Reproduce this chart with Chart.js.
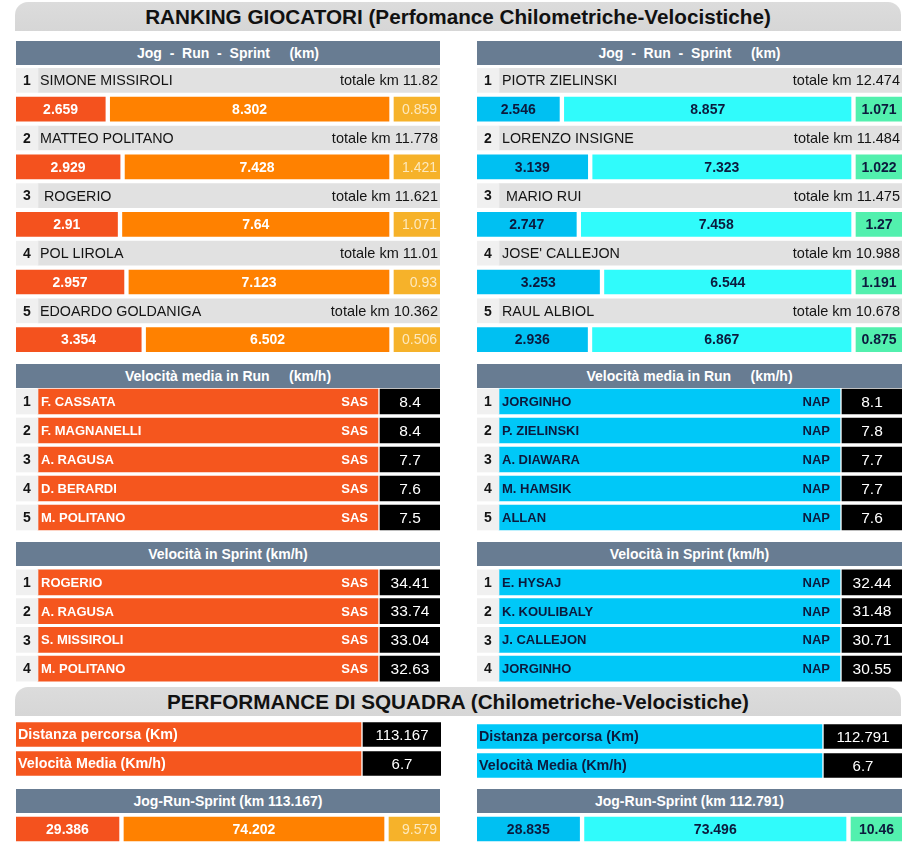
<!DOCTYPE html>
<html>
<head>
<meta charset="utf-8">
<script src="https://cdn.jsdelivr.net/npm/chart.js@4.4.1/dist/chart.umd.min.js"></script>
<style>
  html,body{margin:0;padding:0;background:#fff;}
  body{width:910px;height:854px;position:relative;overflow:hidden;font-family:"Liberation Sans",Arial,sans-serif;}
  .banner{position:absolute;left:15px;width:886px;height:29px;background:linear-gradient(#dcdcdc,#d6d6d6);border-radius:13px 13px 0 0;
    font:bold 20.7px "Liberation Sans",Arial,sans-serif;color:#111;text-align:center;line-height:30px;white-space:pre;}
  .hdr{position:absolute;height:24px;background:#687c92;color:#fff;font:bold 14px "Liberation Sans",Arial,sans-serif;
    text-align:center;line-height:25px;white-space:pre;}
  canvas{position:absolute;display:block;}
</style>
</head>
<body>
<div class="banner" style="top:2px">RANKING GIOCATORI (Perfomance Chilometriche-Velocistiche)</div>

<div class="hdr" style="left:16px;top:41px;width:424px">Jog  -  Run  -  Sprint     (km)</div>
<div class="hdr" style="left:477px;top:41px;width:425px">Jog  -  Run  -  Sprint     (km)</div>
<canvas id="jrsL" width="424" height="288" style="left:16px;top:66px"></canvas>
<canvas id="jrsR" width="425" height="288" style="left:477px;top:66px"></canvas>

<div class="hdr" style="left:16px;top:364px;width:424px">Velocità media in Run     (km/h)</div>
<div class="hdr" style="left:477px;top:364px;width:425px">Velocità media in Run     (km/h)</div>
<canvas id="runL" width="424" height="145" style="left:16px;top:387px"></canvas>
<canvas id="runR" width="425" height="145" style="left:477px;top:387px"></canvas>

<div class="hdr" style="left:16px;top:542px;width:424px">Velocità in Sprint (km/h)</div>
<div class="hdr" style="left:477px;top:542px;width:425px">Velocità in Sprint (km/h)</div>
<canvas id="sprL" width="424" height="115" style="left:16px;top:568px"></canvas>
<canvas id="sprR" width="425" height="115" style="left:477px;top:568px"></canvas>

<div class="banner" style="top:687px">PERFORMANCE DI SQUADRA (Chilometriche-Velocistiche)</div>
<canvas id="teamL" width="425" height="58" style="left:16px;top:720px"></canvas>
<canvas id="teamR" width="425" height="58" style="left:477px;top:722px"></canvas>

<div class="hdr" id="teamHdrL" style="left:16px;top:789px;width:424px"></div>
<div class="hdr" id="teamHdrR" style="left:477px;top:789px;width:425px"></div>
<canvas id="tjrsL" width="424" height="28" style="left:16px;top:815px"></canvas>
<canvas id="tjrsR" width="425" height="28" style="left:477px;top:815px"></canvas>

<script>
// ---------------- DATA ----------------
const sasPlayers = ['SIMONE MISSIROLI', 'MATTEO POLITANO', ' ROGERIO', 'POL LIROLA', 'EDOARDO GOLDANIGA'];
const sasTotal   = [11.82, 11.778, 11.621, 11.01, 10.362];
const sasJog     = [2.659, 2.929, 2.91, 2.957, 3.354];
const sasRun     = [8.302, 7.428, 7.64, 7.123, 6.502];
const sasSprint  = [0.859, 1.421, 1.071, 0.93, 0.506];

const napPlayers = ['PIOTR ZIELINSKI', 'LORENZO INSIGNE', ' MARIO RUI', "JOSE' CALLEJON", 'RAUL ALBIOL'];
const napTotal   = [12.474, 11.484, 11.475, 10.988, 10.678];
const napJog     = [2.546, 3.139, 2.747, 3.253, 2.936];
const napRun     = [8.857, 7.323, 7.458, 6.544, 6.867];
const napSprint  = [1.071, 1.022, 1.27, 1.191, 0.875];

const sasRunSpeedNames = ['F. CASSATA', 'F. MAGNANELLI', 'A. RAGUSA', 'D. BERARDI', 'M. POLITANO'];
const sasRunSpeed      = [8.4, 8.4, 7.7, 7.6, 7.5];
const napRunSpeedNames = ['JORGINHO', 'P. ZIELINSKI', 'A. DIAWARA', 'M. HAMSIK', 'ALLAN'];
const napRunSpeed      = [8.1, 7.8, 7.7, 7.7, 7.6];

const sasSprintNames = ['ROGERIO', 'A. RAGUSA', 'S. MISSIROLI', 'M. POLITANO'];
const sasSprintSpeed = [34.41, 33.74, 33.04, 32.63];
const napSprintNames = ['E. HYSAJ', 'K. KOULIBALY', 'J. CALLEJON', 'JORGINHO'];
const napSprintSpeed = [32.44, 31.48, 30.71, 30.55];

const teamCodes     = ['SAS', 'NAP'];
const teamStatNames = ['Distanza percorsa (Km)', 'Velocità Media (Km/h)'];
const teamDistance  = [113.167, 112.791];
const teamAvgSpeed  = [6.7, 6.7];
const teamJog       = [29.386, 28.835];
const teamRun       = [74.202, 73.496];
const teamSprint    = [9.579, 10.46];

// ---------------- STYLE ----------------
const FONT = '"Liberation Sans", Arial, sans-serif';
const TH = {
  SAS: { jog:'#f4521e', run:'#ff8100', spr:'#f6b22a', bar:'#f5561e', txt:'#ffffff', sprTxt:'#fde9bd' },
  NAP: { jog:'#00c0f2', run:'#30fbfb', spr:'#52f0ae', bar:'#00c8f8', txt:'#0c1a3d', sprTxt:'#0c1a3d' }
};
const GREY = '#e1e1e1', RANKBG = '#f0f0f0', DARK = '#141414';
const GAP = 5;

const cellText = {
  id: 'cellText',
  afterDatasetsDraw(chart) {
    const ctx = chart.ctx;
    chart.data.datasets.forEach((ds, di) => {
      if (!ds.cells) return;
      const meta = chart.getDatasetMeta(di);
      meta.data.forEach((el, i) => {
        const items = ds.cells[i];
        if (!items || ds.data[i] == null) return;
        const p = el.getProps(['x', 'y', 'base'], true);
        const l = Math.min(p.x, p.base), r = Math.max(p.x, p.base);
        items.forEach(it => {
          ctx.save();
          ctx.font = it.font;
          ctx.fillStyle = it.color;
          ctx.textBaseline = 'middle';
          let tx;
          if (it.align === 'left') { ctx.textAlign = 'left'; tx = l + (it.pad || 0); }
          else if (it.align === 'right') { ctx.textAlign = 'right'; tx = r - (it.pad || 0); }
          else { ctx.textAlign = 'center'; tx = (l + r) / 2; }
          ctx.fillText(it.text, tx, p.y + (it.dy || 1));
          ctx.restore();
        });
      });
    });
  }
};

function makeChart(id, labels, width, datasets, thickness) {
  return new Chart(document.getElementById(id), {
    type: 'bar',
    data: { labels, datasets },
    options: {
      indexAxis: 'y',
      responsive: false,
      animation: false,
      events: [],
      layout: { padding: 0 },
      datasets: { bar: { grouped: false, barThickness: thickness, borderWidth: 0 } },
      plugins: { legend: { display: false }, tooltip: { enabled: false } },
      scales: {
        x: { type: 'linear', min: 0, max: width, display: false },
        y: { type: 'category', display: false, offset: true }
      }
    },
    plugins: [cellText]
  });
}

// Jog-Run-Sprint player panel: rows alternate name row / bar row
function jrsPanel(id, width, team, names, totals, jog, run, spr, namePad) {
  const c = TH[team];
  const n = names.length;
  const labels = [], rank = [], nameBg = [], j = [], r = [], s = [];
  const rankC = [], nameC = [], jC = [], rC = [], sC = [];
  const sprW = 46, runEnd = width - sprW - GAP, span = runEnd - GAP;
  for (let i = 0; i < n; i++) {
    labels.push('n' + i, 'b' + i);
    rank.push([0, 22], null);
    nameBg.push([22, width], null);
    rankC.push([{ text: String(i + 1), font: 'bold 14px ' + FONT, color: DARK }], null);
    nameC.push([
      { text: names[i], align: 'left', pad: namePad, font: '14.3px ' + FONT, color: DARK },
      { text: 'totale km ' + totals[i], align: 'right', pad: 2, font: '14.5px ' + FONT, color: DARK }
    ], null);
    const je = jog[i] / (jog[i] + run[i]) * span;
    j.push(null, [0, je]);
    r.push(null, [je + GAP, runEnd]);
    s.push(null, [runEnd + GAP, width]);
    jC.push(null, [{ text: String(jog[i]), font: 'bold 14px ' + FONT, color: c.txt }]);
    rC.push(null, [{ text: String(run[i]), font: 'bold 14px ' + FONT, color: c.txt }]);
    sC.push(null, [{ text: String(spr[i]), align: team === 'SAS' ? 'right' : 'center', pad: 3,
                     font: (team === 'SAS' ? '' : 'bold ') + '14px ' + FONT, color: c.sprTxt }]);
  }
  makeChart(id, labels, width, [
    { data: rank, backgroundColor: RANKBG, cells: rankC },
    { data: nameBg, backgroundColor: GREY, cells: nameC },
    { data: j, backgroundColor: c.jog, cells: jC },
    { data: r, backgroundColor: c.run, cells: rC },
    { data: s, backgroundColor: c.spr, cells: sC }
  ], 24);
}

// speed ranking panel
function speedPanel(id, width, team, names, values) {
  const c = TH[team];
  const barEnd = width - 62, boxStart = width - 60;
  makeChart(id, names, width, [
    { data: names.map(() => [0, 22]), backgroundColor: RANKBG,
      cells: names.map((_, i) => [{ text: String(i + 1), font: 'bold 14px ' + FONT, color: DARK }]) },
    { data: names.map(() => [22, barEnd]), backgroundColor: c.bar,
      cells: names.map(nm => [
        { text: nm, align: 'left', pad: 3, font: 'bold 13px ' + FONT, color: c.txt },
        { text: team, align: 'right', pad: 10, font: 'bold 13px ' + FONT, color: c.txt }
      ]) },
    { data: names.map(() => [boxStart, width]), backgroundColor: '#000000',
      cells: values.map(v => [{ text: String(v), font: '15.5px ' + FONT, color: '#ffffff' }]) }
  ], 25);
}

// team summary panels
function teamPanel(id, width, ti) {
  const team = teamCodes[ti], c = TH[team];
  const vals = [teamDistance[ti], teamAvgSpeed[ti]];
  const barEnd = width - 80, boxStart = width - 78;
  makeChart(id, teamStatNames, width, [
    { data: teamStatNames.map(() => [0, barEnd]), backgroundColor: c.bar,
      cells: teamStatNames.map(t => [{ text: t, align: 'left', pad: 2, font: 'bold 14.3px ' + FONT, color: c.txt }]) },
    { data: teamStatNames.map(() => [boxStart, width]), backgroundColor: '#000000',
      cells: vals.map(v => [{ text: String(v), font: '15px ' + FONT, color: '#ffffff' }]) }
  ], 24);
}

function teamJrs(id, width, ti) {
  const team = teamCodes[ti], c = TH[team];
  const sprW = 51, runEnd = width - sprW - GAP, span = runEnd - GAP;
  const je = teamJog[ti] / (teamJog[ti] + teamRun[ti]) * span;
  makeChart(id, ['team'], width, [
    { data: [[0, je]], backgroundColor: c.jog,
      cells: [[{ text: String(teamJog[ti]), font: 'bold 14px ' + FONT, color: c.txt }]] },
    { data: [[je + GAP, runEnd]], backgroundColor: c.run,
      cells: [[{ text: String(teamRun[ti]), font: 'bold 14px ' + FONT, color: c.txt }]] },
    { data: [[runEnd + GAP, width]], backgroundColor: c.spr,
      cells: [[{ text: String(teamSprint[ti]), align: team === 'SAS' ? 'right' : 'center', pad: 3,
                 font: (team === 'SAS' ? '' : 'bold ') + '14px ' + FONT, color: c.sprTxt }]] }
  ], 24);
}

jrsPanel('jrsL', 424, 'SAS', sasPlayers, sasTotal, sasJog, sasRun, sasSprint, 2);
jrsPanel('jrsR', 425, 'NAP', napPlayers, napTotal, napJog, napRun, napSprint, 3);
speedPanel('runL', 424, 'SAS', sasRunSpeedNames, sasRunSpeed);
speedPanel('runR', 425, 'NAP', napRunSpeedNames, napRunSpeed);
speedPanel('sprL', 424, 'SAS', sasSprintNames, sasSprintSpeed);
speedPanel('sprR', 425, 'NAP', napSprintNames, napSprintSpeed);
teamPanel('teamL', 425, 0);
teamPanel('teamR', 425, 1);
document.getElementById('teamHdrL').textContent = 'Jog-Run-Sprint (km ' + teamDistance[0] + ')';
document.getElementById('teamHdrR').textContent = 'Jog-Run-Sprint (km ' + teamDistance[1] + ')';
teamJrs('tjrsL', 424, 0);
teamJrs('tjrsR', 425, 1);
</script>
</body>
</html>
